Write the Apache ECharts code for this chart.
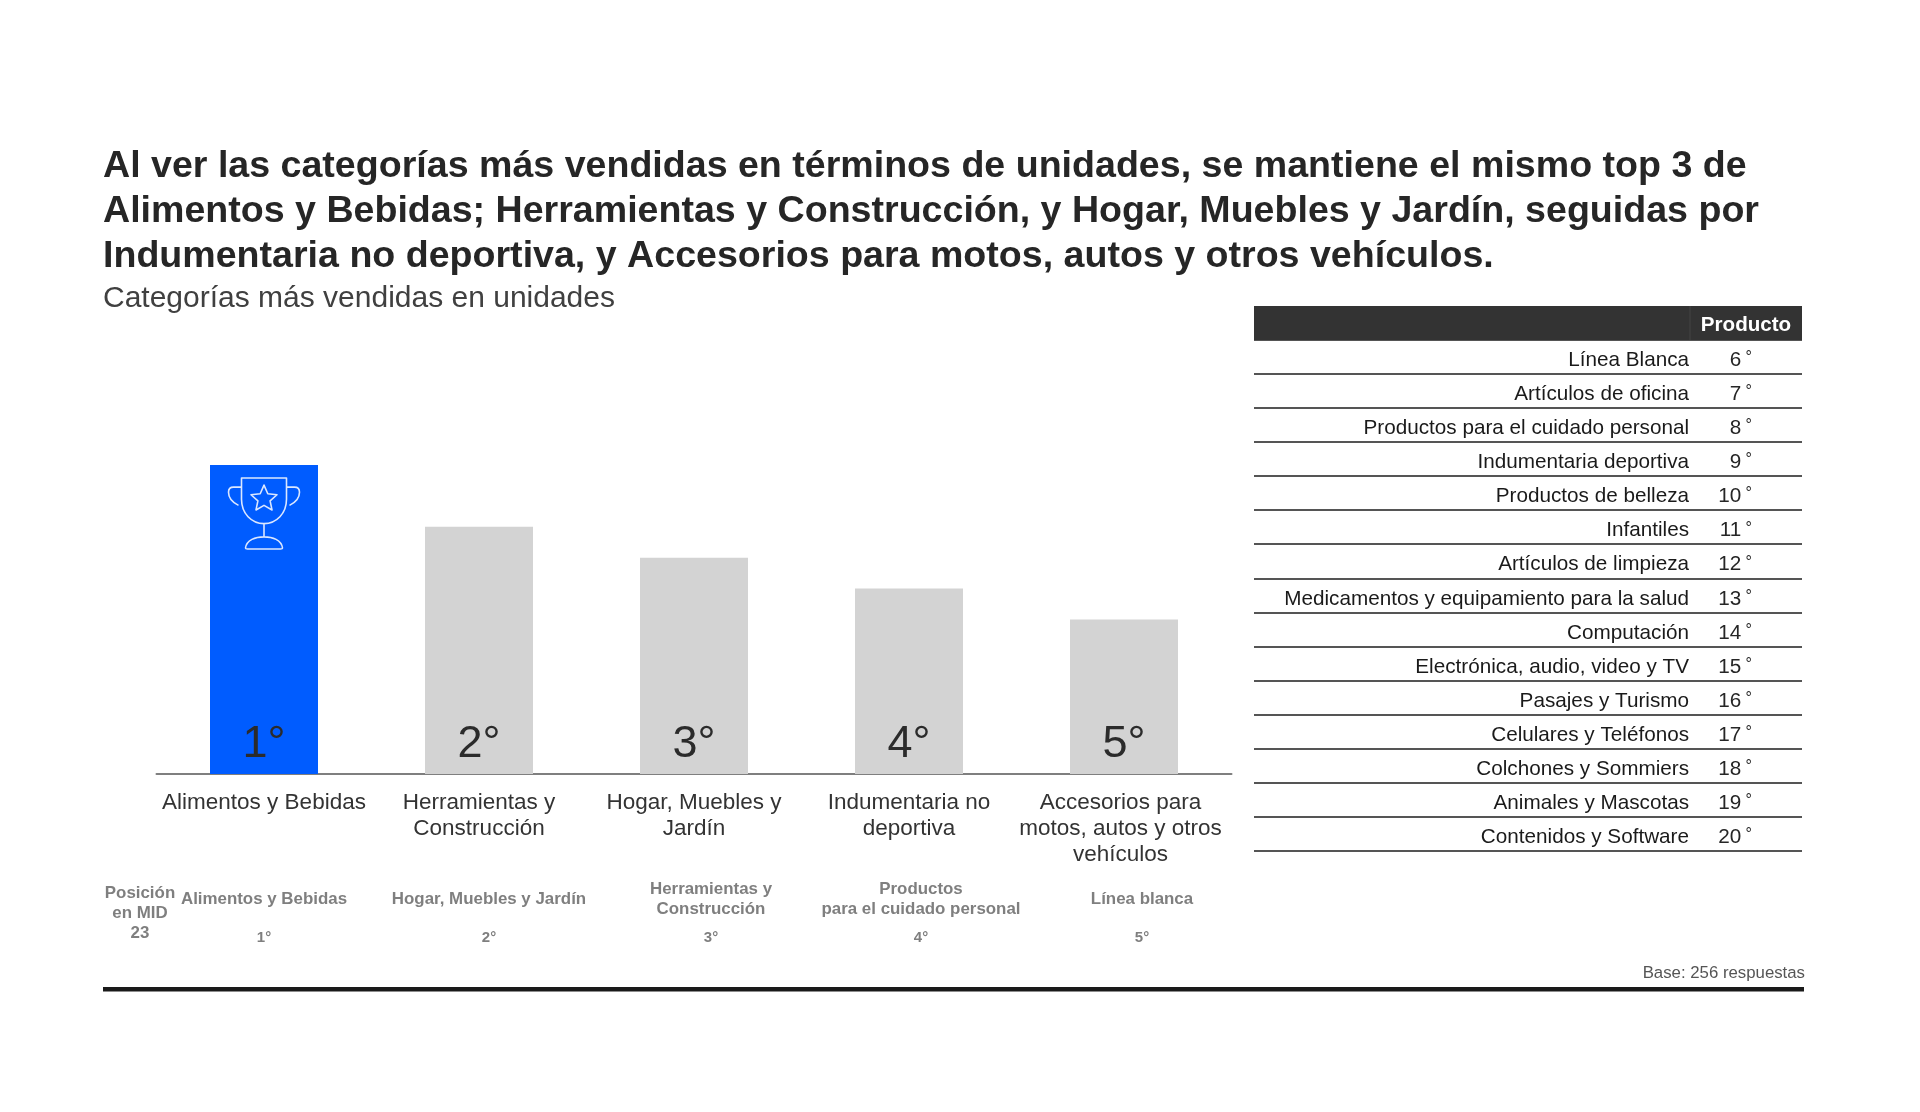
<!DOCTYPE html>
<html><head><meta charset="utf-8">
<style>html,body{margin:0;padding:0;background:#fff}#c{width:1920px;height:1112px}</style>
<script src="https://cdn.jsdelivr.net/npm/echarts@6/dist/echarts.min.js"></script></head>
<body><div id="c"></div>
<script>
const categories=['Alimentos y Bebidas','Herramientas y\nConstrucción','Hogar, Muebles y\nJardín','Indumentaria no\ndeportiva','Accesorios para\nmotos, autos y otros\nvehículos'];
const barValues=[5,4,3.5,3,2.5];
const barRanks=['1°','2°','3°','4°','5°'];
const tableNames=['Línea Blanca','Artículos de oficina','Productos para el cuidado personal','Indumentaria deportiva','Productos de belleza','Infantiles','Artículos de limpieza','Medicamentos y equipamiento para la salud','Computación','Electrónica, audio, video y TV','Pasajes y Turismo','Celulares y Teléfonos','Colchones y Sommiers','Animales y Mascotas','Contenidos y Software'];
const tableRanks=['6','7','8','9','10','11','12','13','14','15','16','17','18','19','20'];
const prevNames=['Alimentos y Bebidas','Hogar, Muebles y Jardín','Herramientas y\nConstrucción','Productos\npara el cuidado personal','Línea blanca'];
const prevRanks=['1°','2°','3°','4°','5°'];
const titleText='Al ver las categorías más vendidas en términos de unidades, se mantiene el mismo top 3 de\nAlimentos y Bebidas; Herramientas y Construcción, y Hogar, Muebles y Jardín, seguidas por\nIndumentaria no deportiva, y Accesorios para motos, autos y otros vehículos.';
const subtitleText='Categorías más vendidas en unidades';
const prevX=[264,489,711,921,1142];
const font='"Liberation Sans",Arial,sans-serif';
const trophy='M13 1H58V22C58 36 48 46 35.5 46C23 46 13 36 13 22ZM35.5 46V59M17 70C18 62 27 59 35.5 59C44 59 53 62 54 70Q54 71 52 71H19Q17 71 17 70ZM13 10H5Q0 10 0 15C0 21 4 25 10 28M58 10H66Q71 10 71 15C71 21 67 25 61 28M35.5 8L39.3 16.5L48.5 17.5L41.6 23.5L43.5 32.5L35.5 28L27.5 32.5L29.4 23.5L22.5 17.5L31.7 16.5Z';
const gray='#7f7f7f';
const graphics=[
 {type:'rect',z:10,shape:{x:1254,y:306,width:548,height:34},style:{fill:'#333333'}},
 {type:'line',z:11,shape:{x1:1690,y1:306,x2:1690,y2:340},style:{stroke:'#454545',lineWidth:1}},
 {type:'text',z:11,x:1746,y:325,style:{text:'Producto',fill:'#fff',font:'bold 20.6px '+font,textAlign:'center',textVerticalAlign:'middle'}},
 {type:'text',x:140,y:913,style:{text:'Posición\nen MID\n23',fill:gray,font:'bold 16.9px '+font,textAlign:'center',textVerticalAlign:'middle',lineHeight:20}},
 {type:'text',x:1805,y:973,style:{text:'Base: 256 respuestas',fill:'#555',font:'16.8px '+font,textAlign:'right',textVerticalAlign:'middle'}},
 {type:'rect',shape:{x:103,y:987,width:1701,height:4.5},style:{fill:'#1a1a1a'}}
];
prevNames.forEach((n,i)=>{
 graphics.push({type:'text',x:prevX[i],y:899,style:{text:n,fill:gray,font:'bold 16.9px '+font,textAlign:'center',textVerticalAlign:'middle',lineHeight:20}});
 graphics.push({type:'text',x:prevX[i],y:938,style:{text:prevRanks[i],fill:gray,font:'bold 15px '+font,textAlign:'center',textVerticalAlign:'middle'}});
});
const chart=echarts.init(document.getElementById('c'),null,{renderer:'canvas'});
chart.setOption({
 animation:false,backgroundColor:'#fff',textStyle:{fontFamily:font},
 title:[
  {text:titleText,left:98,top:139.5,textStyle:{fontFamily:font,fontSize:37.6,fontWeight:'bold',color:'#262626',lineHeight:45}},
  {text:subtitleText,left:98,top:278.5,textStyle:{fontFamily:font,fontSize:30,fontWeight:'normal',color:'#404040'}}
 ],
 grid:[
  {left:156.5,top:465,width:1075,height:309},
  {left:1254,top:339.6,width:548,height:511.4}
 ],
 xAxis:[
  {type:'category',gridIndex:0,axisTick:{show:false},
   data:categories.map((c,i)=>i===4?{value:c,textStyle:{padding:[0,7,0,0]}}:c),
   axisLine:{lineStyle:{color:'#7f7f7f',width:2}},
   axisLabel:{interval:0,margin:16,fontSize:22.5,lineHeight:26,color:'#333',fontFamily:font}},
  {type:'value',gridIndex:1,min:0,max:1,show:false}
 ],
 yAxis:[
  {type:'value',gridIndex:0,min:0,max:5,show:false},
  {type:'category',gridIndex:1,inverse:true,data:tableNames,position:'left',offset:-435,
   axisLine:{show:false},axisTick:{show:false},
   splitLine:{show:true,interval:0,lineStyle:{color:'#555',width:2}},
   axisLabel:{interval:0,margin:0,align:'right',padding:[7,0,0,0],formatter:v=>`{n|${v}}`,
    rich:{n:{fontSize:20.7,color:'#1a1a1a',fontFamily:font}}}},
  {type:'category',gridIndex:1,inverse:true,data:tableRanks,position:'left',offset:-498,
   axisLine:{show:false},axisTick:{show:false},splitLine:{show:false},
   axisLabel:{interval:0,margin:0,align:'right',padding:[7,0,0,0],formatter:v=>`{n|${v}}{d| °}`,
    rich:{n:{fontSize:20.7,color:'#262626',fontFamily:font},d:{fontSize:16,color:'#262626',fontFamily:font,verticalAlign:'top'}}}}
 ],
 series:[
  {type:'bar',xAxisIndex:0,yAxisIndex:0,barWidth:108,silent:true,
   data:barValues.map((v,i)=>({value:v,itemStyle:{color:i===0?'#005CFF':'#D3D3D3'}})),
   label:{show:true,position:'insideBottom',distance:7,fontSize:45,color:'#2b2b2b',fontFamily:font,formatter:p=>barRanks[p.dataIndex]}},
  {type:'scatter',xAxisIndex:1,yAxisIndex:2,symbolSize:0,silent:true,data:tableRanks.map(r=>[0,r])},
  {type:'custom',xAxisIndex:0,yAxisIndex:0,silent:true,z:5,data:[[0,barValues[0]]],
   renderItem:(params,api)=>{
    const p=api.coord([api.value(0),api.value(1)]);
    return {type:'path',shape:{pathData:trophy,x:p[0]-35.5,y:p[1]+13,width:71,height:71,layout:'cover'},
     style:{fill:'none',stroke:'#dbe7ff',lineWidth:1.6,lineJoin:'round'}};
   }}
 ],
 graphic:graphics
});
</script></body></html>
